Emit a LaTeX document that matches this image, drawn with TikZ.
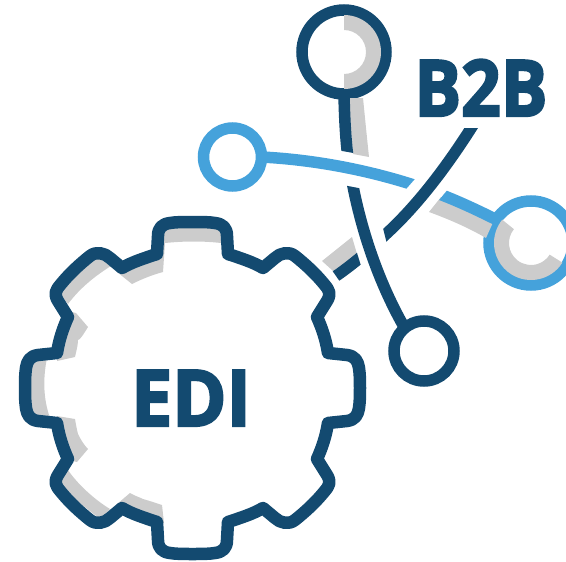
\documentclass[tikz,border=0pt]{standalone}
\usepackage{fontspec}
\setmainfont{Open Sans}
\definecolor{navy}{HTML}{134A70}
\definecolor{sky}{HTML}{45A2DB}
\definecolor{shade}{HTML}{CCCCCC}
\tikzset{
  ring/.style={circle,draw=#1,line width=11.5pt,inner sep=0pt,outer sep=0pt},
  navyline/.style={draw=navy,line width=11.5pt},
  skyline/.style={draw=sky,line width=11.5pt},
  band/.style={fill=shade,draw=none},
  word/.style={text=navy,font=\fontsize{78}{78}\selectfont\bfseries\addfontfeature{FakeBold=3},anchor=base,inner sep=0pt}
}
\begin{document}
\begin{tikzpicture}[x=1pt,y=1pt,yscale=-1]
\useasboundingbox (0,0) rectangle (566,562);
\clip (0,0) rectangle (566,562);
% grey shading, gear
\fill[band] (165,228) -- (222,226) -- (221,243) .. controls (203,241) and (185,241) .. (165,243) -- (163,272) .. controls (152,275) and (142,279) .. (132,284) -- (117,272) -- (125,262) -- (150,250) -- cycle;
\fill[band] (98,253) -- (111,266) .. controls (95,276) and (80,288) .. (68,304) -- (57,290) -- cycle;
\fill[band] (64,310) -- (76,313) -- (88,327) .. controls (83,335) and (80,340) .. (78,340) .. controls (78,346) and (76,352) .. (75,357) -- (57,361) -- cycle;
\fill[band] (30,358) -- (47,358) .. controls (43,378) and (43,398) .. (50,418) -- (30,418) -- cycle;
\fill[band] (57,416) -- (75,419) .. controls (76,425) and (77,430) .. (78,434) .. controls (81,440) and (84,445) .. (88,449) -- (77,462) -- (65,459) -- cycle;
\fill[band] (68,470) .. controls (76,482) and (92,498) .. (110,509) -- (100,519) -- (57,485) -- cycle;
\fill[band] (117,504) -- (130,493) .. controls (135,496) and (139,497) .. (143,499) .. controls (150,501) and (156,503) .. (162,505) -- (164,523) -- (122,509) -- cycle;
% nodes
\node[ring=navy,minimum size=84pt] (top) at (344,52) {};
\node[ring=navy,minimum size=60pt] (bot) at (424,351) {};
\node[ring=sky,minimum size=58pt] (left) at (232.5,157) {};
\node[ring=sky,minimum size=84pt] (right) at (531,243) {};
\coordinate (stemcut) at (350,170);
\coordinate (skycut) at (420,187);
\coordinate (diagtop) at (475,122);
\coordinate (diagmid) at (385,235);
\coordinate (diagend) at (336,276);
% grey inside nodes and beside connectors
\fill[band] (344,15) arc (-90:90:37) -- (344,74) arc (90:-90:22) -- cycle;
\fill[band] ([shift={(531,243)}]32:37) arc (32:219:37) -- ([shift={(531,243)}]219:22) arc (219:32:22) -- cycle;
\fill[band] (348,98) -- (363,98) .. controls (365,118) and (367,138) .. (369,157) -- (353,154) -- cycle;
\fill[band] (322,261) -- (352,237) -- (357,254) -- (333,271) -- cycle;
\fill[band] (429,212) -- (441,197) -- (495,218) -- (486,238) .. controls (467,227) and (448,219) .. (429,212) -- cycle;
% stem, top node to bottom node, broken by the sky line
\begin{scope}
\clip (300,143.4) -- (420,165) -- (420,0) -- (300,0) -- cycle;
\draw[navyline] (top.south) .. controls (344.5,120) and (346,150) .. (stemcut);
\end{scope}
\begin{scope}
\clip (330,182.6) -- (440,203.5) -- (440,340) -- (330,340) -- cycle;
\draw[navyline] (stemcut) .. controls (360,230) and (380,285) .. (bot.130);
\end{scope}
% sky line, left node to right node, broken by the diagonal
\begin{scope}
\clip (190,100) -- (484,100) -- (396.5,200) -- (190,200) -- cycle;
\draw[skyline] (left.east) .. controls (320,160) and (375,172) .. (skycut);
\end{scope}
\begin{scope}
\clip (480.5,150) -- (560,150) -- (560,250) -- (397.7,250) -- cycle;
\draw[skyline] (skycut) .. controls (450,197) and (475,209) .. (right.146);
\end{scope}
% diagonal, broken by the stem
\begin{scope}
\clip (357.8,128) -- (566,128) -- (566,260) -- (391,260) -- cycle;
\draw[navyline] (diagtop) .. controls (448,165) and (418,205) .. (diagmid) .. controls (370,250) and (352,265) .. (diagend);
\end{scope}
\begin{scope}
\clip (300,240) -- (353,240) -- (371.6,300) -- (300,300) -- cycle;
\draw[navyline] (diagtop) .. controls (448,165) and (418,205) .. (diagmid) .. controls (370,250) and (352,265) .. (diagend);
\end{scope}
% gear
\draw[navy,line width=12.5pt,line join=round]
 (192.5,222) .. controls (183,222) and (176,222) .. (170,223) .. controls (162,224) and (158,228) .. (158,236) -- (157,254)
 .. controls (145,258) and (132,262) .. (122,268) -- (110,258) .. controls (105,253) and (96,251) .. (90,256)
 .. controls (80,264) and (70,273) .. (61,284) .. controls (55,291) and (54,294) .. (58,301) -- (68,317)
 .. controls (63,328) and (59,340) .. (57,353) -- (38,355) .. controls (30,356) and (27,361) .. (26,368)
 .. controls (25,375) and (25,381) .. (25,388)
 .. controls (25,395) and (25,401) .. (26,408) .. controls (27,415) and (30,420) .. (38,421) -- (57,423)
 .. controls (59,436) and (63,448) .. (68,459) -- (58,475) .. controls (54,482) and (55,485) .. (61,492)
 .. controls (70,503) and (80,512) .. (90,520) .. controls (96,525) and (105,523) .. (110,518) -- (122,508)
 .. controls (132,514) and (145,518) .. (157,522) -- (158,540) .. controls (158,548) and (162,552) .. (170,553)
 .. controls (176,554) and (183,554) .. (192.5,554)
 .. controls (202,554) and (209,554) .. (215,553) .. controls (223,552) and (227,548) .. (227,540) -- (228,522)
 .. controls (240,518) and (253,514) .. (263,508) -- (275,518) .. controls (280,523) and (289,525) .. (295,520)
 .. controls (305,512) and (315,503) .. (324,492) .. controls (330,485) and (331,482) .. (327,475) -- (317,459)
 .. controls (322,448) and (326,436) .. (328,423) -- (347,421) .. controls (355,420) and (358,415) .. (359,408)
 .. controls (360,401) and (360,395) .. (360,388)
 .. controls (360,381) and (360,375) .. (359,368) .. controls (358,361) and (355,356) .. (347,355) -- (328,353)
 .. controls (326,340) and (322,328) .. (317,317) -- (327,301) .. controls (331,294) and (330,291) .. (324,284)
 .. controls (315,273) and (305,264) .. (295,256) .. controls (289,251) and (280,253) .. (275,258) -- (263,268)
 .. controls (253,262) and (240,258) .. (228,254) -- (227,236) .. controls (227,228) and (223,224) .. (215,223)
 .. controls (209,222) and (202,222) .. (192.5,222) -- cycle;
% labels
\node[word] (btob) at (481,116) {\scalebox{.89}[1]{B2B}};
\node[word] (edi) at (191,426) {\scalebox{.94}[1]{EDI}};
\end{tikzpicture}
\end{document}
